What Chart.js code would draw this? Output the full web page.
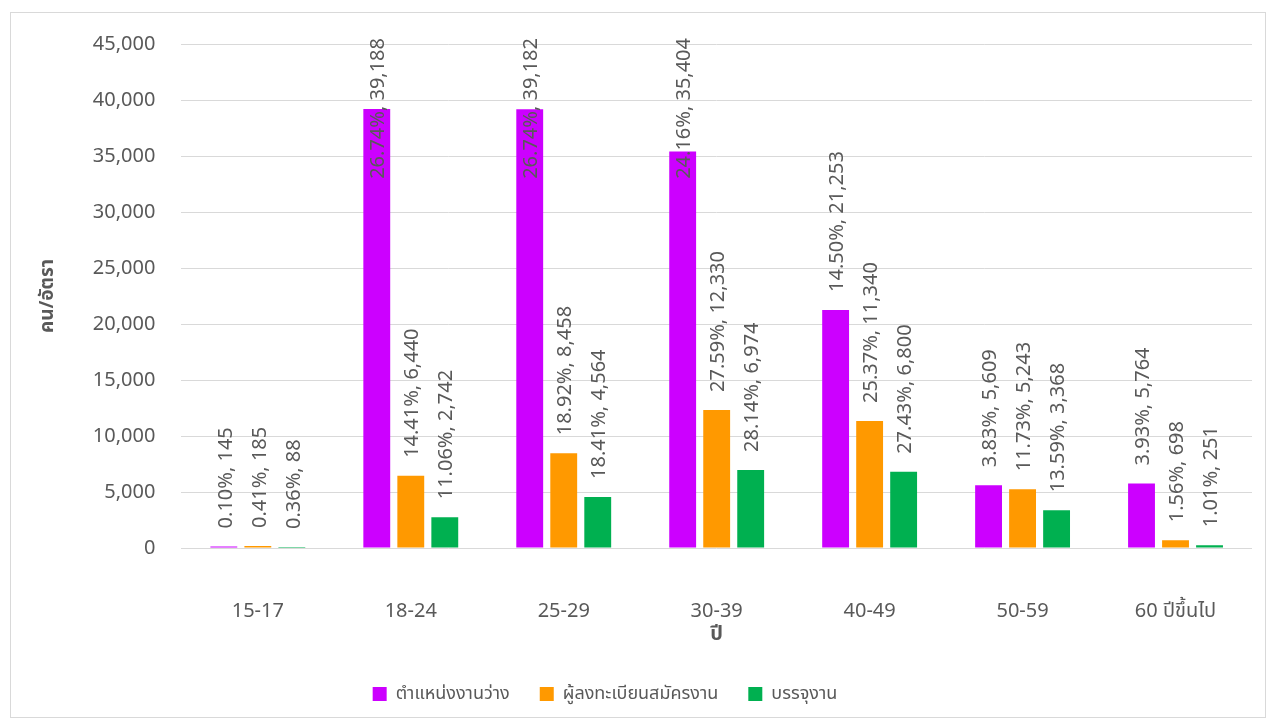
<!DOCTYPE html>
<html>
<head>
<meta charset="utf-8">
<script src="https://cdn.jsdelivr.net/npm/chart.js@4.4.0/dist/chart.umd.min.js"></script>
<style>
  html, body { margin: 0; padding: 0; background: #fff; }
  #wrap { position: absolute; left: 10px; top: 12px; width: 1254px; height: 704px; border: 1px solid #d9d9d9; }
  #cv { position: absolute; left: 0; top: 0; }
</style>
</head>
<body>
<div id="wrap"></div>
<canvas id="cv" width="1276" height="722"></canvas>
<script>
// dati
var ageGroups = ['15-17', '18-24', '25-29', '30-39', '40-49', '50-59', '60 ปีขึ้นไป'];
var seriesNames = ['ตำแหน่งงานว่าง', 'ผู้ลงทะเบียนสมัครงาน', 'บรรจุงาน'];
var vacancies = [145, 39188, 39182, 35404, 21253, 5609, 5764];
var applicants = [185, 6440, 8458, 12330, 11340, 5243, 698];
var placements = [88, 2742, 4564, 6974, 6800, 3368, 251];
var vacanciesPct = ['0.10%', '26.74%', '26.74%', '24.16%', '14.50%', '3.83%', '3.93%'];
var applicantsPct = ['0.41%', '14.41%', '18.92%', '27.59%', '25.37%', '11.73%', '1.56%'];
var placementsPct = ['0.36%', '11.06%', '18.41%', '28.14%', '27.43%', '13.59%', '1.01%'];
var yTicks = [0, 5000, 10000, 15000, 20000, 25000, 30000, 35000, 40000, 45000];

var FONT = "'Noto Sans', 'Noto Sans Thai', sans-serif";
var GREY = '#595959';

//plugin per le etichette ruotate sopra le barre
var barLabels = {
  id: 'barLabels',
  afterDatasetsDraw: function (chart) {
    var ctx = chart.ctx;
    var pcts = [vacanciesPct, applicantsPct, placementsPct];
    ctx.save();
    ctx.font = '20px ' + FONT;
    ctx.fillStyle = GREY;
    ctx.textAlign = 'left';
    ctx.textBaseline = 'middle';
    chart.data.datasets.forEach(function (ds, di) {
      var meta = chart.getDatasetMeta(di);
      meta.data.forEach(function (bar, i) {
        var txt = pcts[di][i] + ', ' + ds.data[i].toLocaleString('en-US');
        var w = ctx.measureText(txt).width;
        var y = bar.y - 18;
        if (y - w < 38) y = 38 + w;
        ctx.save();
        ctx.translate(bar.x + 2, y);
        ctx.rotate(-Math.PI / 2);
        ctx.fillText(txt, 0, 0);
        ctx.restore();
      });
    });
    ctx.restore();
  }
};

//sposta un po' la legenda a sinistra come nell'originale
var legendShift = {
  id: 'legendShift',
  afterLayout: function (chart) {
    if (chart.legend) {
      chart.legend.left -= 39;
      chart.legend.right -= 39;
    }
  }
};

var ctx = document.getElementById('cv').getContext('2d');
var chart = new Chart(ctx, {
  type: 'bar',
  data: {
    labels: ageGroups,
    datasets: [
      { label: seriesNames[0], data: vacancies, backgroundColor: '#cc00ff' },
      { label: seriesNames[1], data: applicants, backgroundColor: '#ff9900' },
      { label: seriesNames[2], data: placements, backgroundColor: '#00b050' }
    ]
  },
  options: {
    responsive: false,
    animation: false,
    layout: { padding: { left: 36, right: 24, top: 44, bottom: 9 } },
    datasets: { bar: { categoryPercentage: 0.667, barPercentage: 0.79 } },
    plugins: {
      tooltip: { enabled: false },
      legend: {
        position: 'bottom',
        labels: { font: { family: FONT, size: 18 }, color: GREY, boxWidth: 14, boxHeight: 14, padding: 30 }
      }
    },
    scales: {
      x: {
        afterFit: function (scale) { scale.height = 107; },
        grid: { display: false },
        border: { display: false },
        ticks: { font: { family: FONT, size: 20 }, color: GREY, padding: 43 },
        title: { display: true, text: 'ปี', font: { family: FONT, size: 20, weight: 'bold' }, color: GREY, padding: { top: 0, bottom: 9 } }
      },
      y: {
        min: 0,
        max: 45000,
        afterBuildTicks: function (scale) {
          scale.ticks = yTicks.map(function (v) { return { value: v }; });
        },
        grid: { color: '#d9d9d9', lineWidth: 1, drawTicks: false },
        border: { display: false },
        ticks: {
          font: { family: FONT, size: 20 }, color: GREY, padding: 26,
          callback: function (v) { return v.toLocaleString('en-US'); }
        },
        title: { display: true, text: 'คน/อัตรา', font: { family: FONT, size: 19, weight: 'bold' }, color: GREY, padding: { top: 0, bottom: 8 } }
      }
    }
  },
  plugins: [barLabels, legendShift]
});
</script>
</body>
</html>
